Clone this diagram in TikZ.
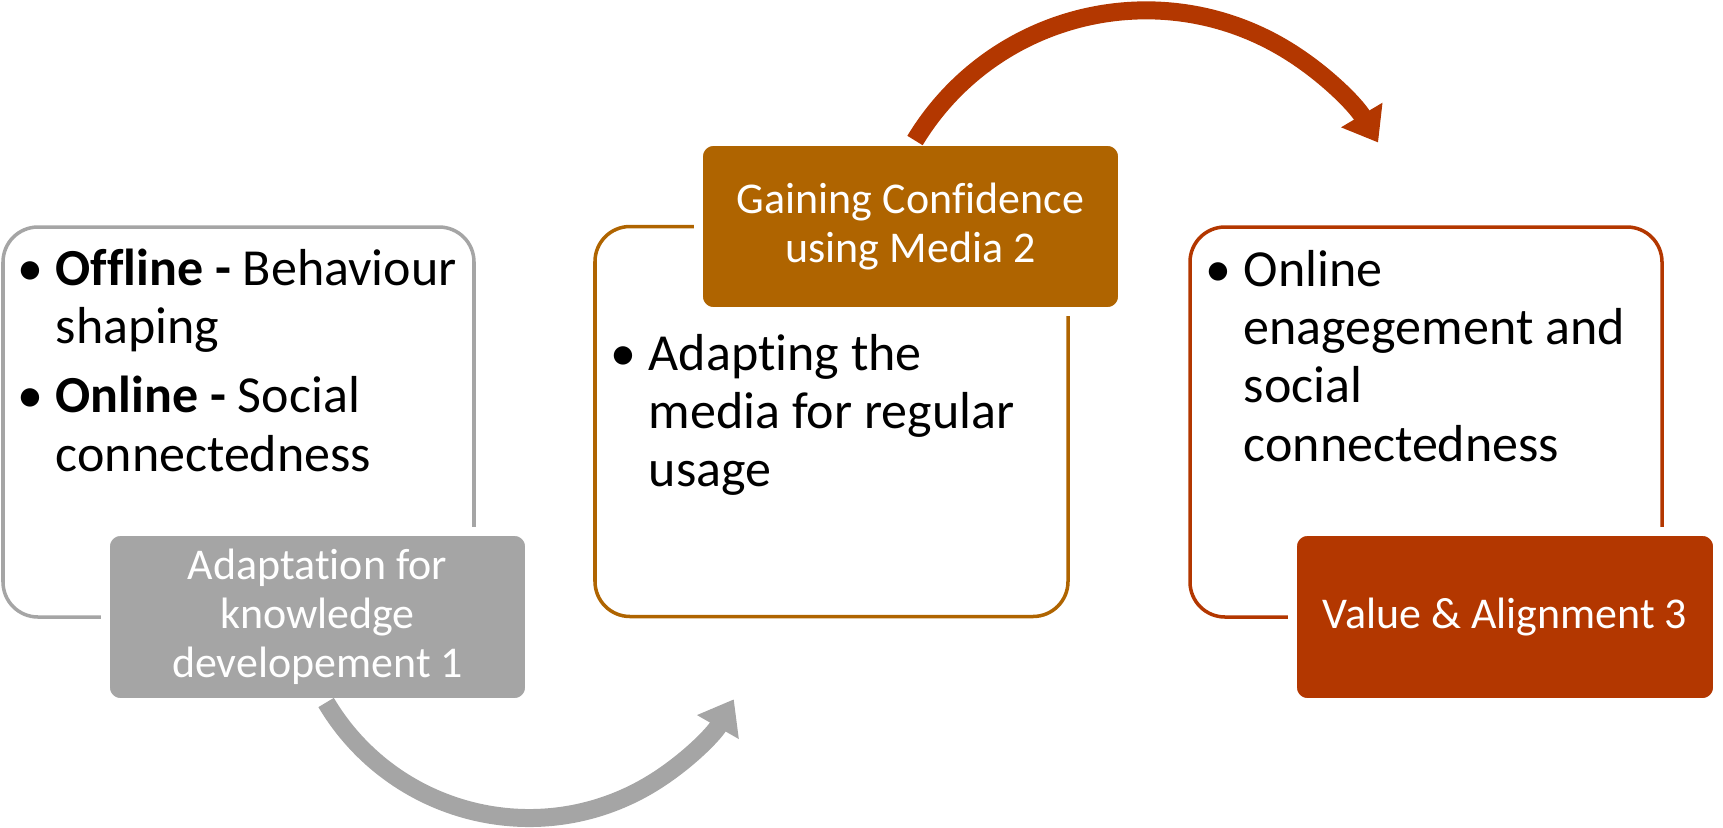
\documentclass[tikz,border=0pt]{standalone}
\usepackage{fontspec}
\setmainfont{Carlito}[Ligatures=NoCommon]
\usepackage{xcolor}
\usetikzlibrary{arrows.meta, positioning}
\definecolor{StepGrey}{HTML}{A5A5A5}
\definecolor{StepOchre}{HTML}{AF6400}
\definecolor{StepRust}{HTML}{B33700}
\newcommand{\bitem}[1]{\par\hangindent=0.38cm\hangafter=1\noindent\makebox[0.38cm][l]{\textbullet}#1\par}
\tikzset{
    % Box styles - rounded corners
    outline/.style={
        rectangle,
        rounded corners=0.35cm,
        fill=white,
        line width=1pt,
        minimum height=3.90cm
    },
    stage/.style={
        rectangle,
        rounded corners=0.15cm,
        draw=white,
        line width=2.5pt,
        text=white,
        minimum width=4.24cm,
        minimum height=1.71cm,
        align=center,
        font=\fontsize{12.5}{13.9}\selectfont
    },
    bullets/.style={
        inner sep=0pt,
        anchor=base west,
        font=\fontsize{14.8}{16.6}\selectfont
    },
    % Arrow styles - curved
    looparrow/.style={
        -{Triangle[width=0.46cm, length=0.32cm]},
        line width=0.18cm
    }
}

\begin{document}
\begin{tikzpicture}
    \useasboundingbox (0,0) rectangle (17.23,8.27);

    % Stage 1
    \node[outline, draw=StepGrey, minimum width=4.71cm] (box1) at (2.385,4.05) {};
    \node[bullets] (txt1) at (0.17,5.415) {\parbox[t]{4.6cm}{%
        \bitem{\textbf{Offline -} Behaviour\newline shaping}\vspace{3pt}
        \bitem{\textbf{Online -} Social\newline connectedness}}};
    \node[stage, fill=StepGrey] (lab1) at (3.175,2.10) {Adaptation for\\knowledge\\developement 1};

    % Stage 2
    \node[outline, draw=StepOchre, minimum width=4.73cm] (box2) at (8.315,4.055) {};
    \node[bullets] (txt2) at (6.10,4.57) {\parbox[t]{4.6cm}{%
        \bitem{Adapting the\newline media for regular\newline usage}}};
    \node[stage, fill=StepOchre, minimum height=1.70cm] (lab2) at (9.105,6.005) {Gaining Confidence\\using Media 2};

    % Stage 3
    \node[outline, draw=StepRust, minimum width=4.72cm] (box3) at (14.26,4.05) {};
    \node[bullets] (txt3) at (12.05,5.41) {\parbox[t]{4.6cm}{%
        \bitem{Online\newline enagegement and\newline social\newline connectedness}}};
    \node[stage, fill=StepRust, minimum width=4.25cm] (lab3) at (15.05,2.10) {Value \& Alignment 3};

    % Arrows
    \draw[looparrow, draw=StepGrey] ([xshift=0.086cm, yshift=0.044cm]lab1.south) arc[start angle=210.7, end angle=330.2, radius=2.36];
    \draw[looparrow, draw=StepRust] ([xshift=0.045cm, yshift=-0.034cm]lab2.north) arc[start angle=148.8, end angle=30.7, radius=2.70];
\end{tikzpicture}
\end{document}
